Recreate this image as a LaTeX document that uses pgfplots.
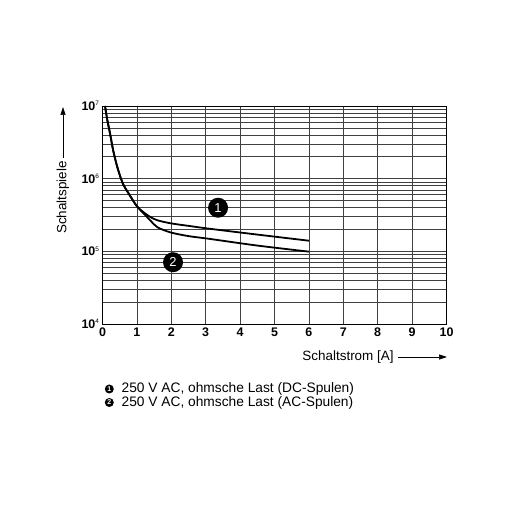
\documentclass[border=0pt]{standalone}
\usepackage{pgfplots}
\pgfplotsset{compat=1.18}
\usepackage{fontspec}
\setmainfont{Liberation Sans}
\usetikzlibrary{arrows.meta}
\begin{document}
\begin{tikzpicture}[x=1bp,y=1bp]
\useasboundingbox (0,0) rectangle (512,512);
\begin{axis}[
  at={(102.5bp,188bp)}, anchor=south west,
  scale only axis, width=344bp, height=218bp,
  xmin=0, xmax=10, ymode=log, ymin=1e4, ymax=1e7,
  xtick={0,1,...,10},
  ytick={1e4,1e5,1e6,1e7},
  yticklabels={{\textbf{10}\raisebox{0.7ex}{\fontsize{6.5}{6.5}\selectfont 4}},
               {\textbf{10}\raisebox{0.7ex}{\fontsize{6.5}{6.5}\selectfont 5}},
               {\textbf{10}\raisebox{0.7ex}{\fontsize{6.5}{6.5}\selectfont 6}},
               {\textbf{10}\raisebox{0.7ex}{\fontsize{6.5}{6.5}\selectfont 7}}},
  xticklabel style={font=\fontsize{12.5}{13}\selectfont\bfseries},
  yticklabel style={font=\fontsize{12.5}{13}\selectfont},
  /pgf/number format/assume math mode=true,
  major tick length=0pt, minor tick length=0pt,
  xmajorgrids, ymajorgrids, yminorgrids,
  grid style={line width=0.6bp, draw=black!75},
  minor grid style={line width=0.6bp, draw=black!75},
  axis line style={line width=0.8bp, black},
  clip=true,
]
\addplot[black, line width=1.8bp, smooth, tension=0.5] coordinates {
(0.073,1e7) (0.14,6.40e6) (0.22,4.17e6) (0.31,2.45e6) (0.43,1.445e6) (0.59,8.61e5)
(0.78,6.03e5) (1.0,4.17e5) (1.2,3.43e5) (1.4,2.95e5) (1.6,2.67e5) (1.98,2.43e5)
(2.5,2.24e5) (3.13,2.04e5) (4.5,1.70e5) (6.0,1.40e5)};
\addplot[black, line width=1.8bp, smooth, tension=0.5] coordinates {
(0.073,1e7) (0.14,6.40e6) (0.22,4.17e6) (0.31,2.45e6) (0.43,1.445e6) (0.59,8.61e5)
(0.78,6.03e5) (1.0,4.17e5) (1.2,3.31e5) (1.4,2.63e5) (1.6,2.14e5) (1.98,1.82e5)
(2.5,1.62e5) (3.13,1.48e5) (4.5,1.20e5) (6.0,9.9e4)};
\node[circle, fill=black, inner sep=0pt, minimum size=20bp, text=white,
  font=\fontsize{13}{13}\selectfont] at (axis cs:3.36,3.98e5) {1};
\node[circle, fill=black, inner sep=0pt, minimum size=20bp, text=white,
  font=\fontsize{13}{13}\selectfont] at (axis cs:2.05,7.08e4) {2};
\end{axis}
% y label and arrow
\node[rotate=90, font=\fontsize{13.5}{14}\selectfont] at (63,314.5) {Schaltspiele};
\draw[line width=0.7bp, -{Triangle[length=8bp,width=5bp]}] (63,354) -- (63,405);
% x label and arrow
\node[font=\fontsize{13.5}{14}\selectfont] at (348,155) {Schaltstrom [A]};
\draw[line width=0.7bp, -{Triangle[length=8bp,width=5bp]}] (398,155) -- (447,155);
% legend
\node[circle, fill=black, inner sep=0pt, minimum size=9bp, text=white,
  font=\fontsize{7}{7}\selectfont\bfseries] at (109.3,123) {1};
\node[circle, fill=black, inner sep=0pt, minimum size=9bp, text=white,
  font=\fontsize{7}{7}\selectfont\bfseries] at (109.3,109.5) {2};
\node[anchor=west, inner sep=0pt, font=\fontsize{13.8}{14}\selectfont] at (121.5,123) {250 V AC, ohmsche Last (DC-Spulen)};
\node[anchor=west, inner sep=0pt, font=\fontsize{13.8}{14}\selectfont] at (121.5,109.5) {250 V AC, ohmsche Last (AC-Spulen)};
\end{tikzpicture}
\end{document}
